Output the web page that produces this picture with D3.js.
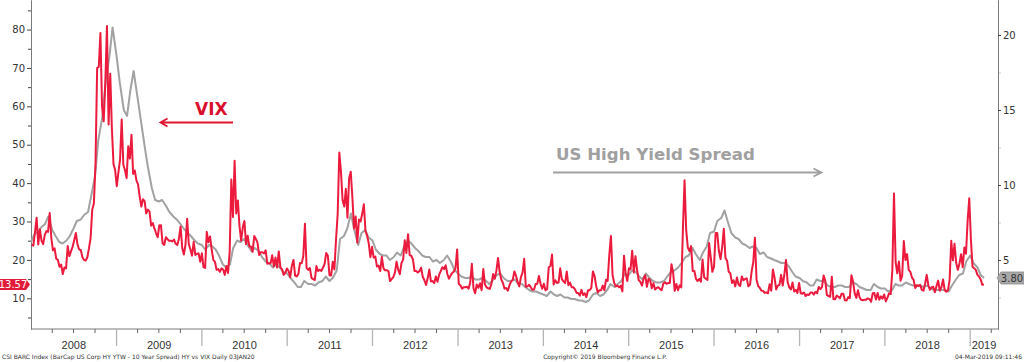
<!DOCTYPE html>
<html>
<head>
<meta charset="utf-8">
<script src="https://cdn.jsdelivr.net/npm/d3@7"></script>
<style>
  body { margin: 0; background: #fff; }
  svg { display: block; }
  text { font-family: "DejaVu Sans", Verdana, sans-serif; }
</style>
</head>
<body>
<svg id="chart" width="1024" height="362"></svg>
<script>
// VIX, weekly (Friday) values - left axis
const vix2008 = [23.9, 23.7, 27.2, 31.0, 24.0, 28.0, 25.0, 24.1, 26.5, 27.5, 27.3, 32.2, 25.7, 22.5, 23.0, 20.3, 20.0, 18.2, 18.8, 16.3, 18.0, 17.8, 23.6, 21.0, 22.2, 23.4, 25.2, 27.0, 24.0, 22.7, 22.6, 20.7, 20.0, 19.8, 20.7, 23.0, 25.7, 33.1, 34.7, 45.1, 69.95, 70.3, 79.1, 59.9, 56.1, 66.3, 80.9, 55.3, 68.5, 54.3, 44.9, 43.4];
const vix2009 = [39.2, 42.8, 46.1, 56.6, 44.8, 43.4, 41.3, 49.6, 46.4, 52.6, 42.4, 43.3, 40.7, 39.7, 36.5, 33.9, 35.8, 35.3, 32.1, 33.1, 32.6, 28.9, 29.6, 28.2, 27.0, 25.9, 29.0, 29.0, 24.3, 23.9, 25.9, 25.4, 25.0, 25.0, 24.8, 25.3, 24.2, 23.9, 25.6, 28.7, 23.1, 21.4, 24.0, 30.7, 24.2, 22.7, 21.1, 24.7, 21.3, 21.6, 21.7, 19.5];
const vix2010 = [21.7, 18.1, 17.9, 27.3, 24.6, 26.1, 22.7, 20.0, 19.5, 17.4, 17.6, 16.9, 17.8, 17.5, 16.1, 18.4, 16.6, 22.1, 40.95, 31.2, 45.8, 32.1, 35.5, 28.8, 25.0, 28.5, 30.1, 24.1, 26.3, 23.5, 23.5, 22.1, 26.2, 25.5, 24.5, 21.3, 22.0, 22.0, 21.7, 22.5, 19.0, 19.1, 19.1, 21.2, 18.3, 20.6, 18.0, 22.2, 18.0, 17.6, 16.1, 16.6, 17.75];
const vix2011 = [17.1, 15.5, 18.5, 20.0, 15.9, 15.7, 16.4, 19.2, 19.1, 21.0, 29.4, 17.9, 17.4, 17.9, 15.3, 15.0, 14.75, 18.4, 17.1, 17.4, 17.1, 17.95, 18.9, 21.8, 21.1, 16.0, 15.95, 19.5, 17.5, 25.3, 32.0, 48.0, 43.05, 35.6, 33.9, 38.5, 30.98, 41.25, 42.96, 36.2, 28.2, 31.3, 24.5, 30.5, 30.0, 32.0, 34.5, 27.5, 26.3, 24.3, 20.7, 23.4];
const vix2012 = [20.6, 20.9, 18.3, 18.5, 17.1, 20.8, 17.8, 17.3, 17.3, 17.1, 14.5, 15.0, 15.5, 16.7, 19.55, 17.4, 16.3, 19.2, 20.0, 25.1, 21.8, 26.7, 21.2, 21.1, 20.1, 17.1, 17.1, 16.7, 17.1, 18.0, 15.6, 14.7, 13.45, 15.2, 17.5, 14.4, 14.5, 13.98, 15.7, 14.3, 16.1, 17.1, 18.1, 17.6, 18.6, 16.4, 15.1, 15.9, 16.6, 17.0, 17.8, 22.7];
const vix2013 = [13.8, 13.4, 12.5, 12.9, 12.9, 13.0, 12.5, 14.1, 19.0, 12.6, 11.3, 13.6, 12.7, 13.9, 12.1, 17.6, 13.6, 12.85, 12.6, 12.45, 13.8, 16.3, 15.1, 17.15, 20.5, 16.9, 14.9, 14.0, 12.5, 12.7, 11.98, 13.4, 14.4, 14.8, 17.0, 15.85, 14.2, 13.1, 15.5, 16.7, 20.3, 13.0, 13.1, 13.5, 12.9, 12.2, 12.3, 13.7, 13.8, 15.8, 13.8, 12.5];
const vix2014 = [13.8, 12.1, 12.4, 18.1, 18.4, 21.4, 13.6, 14.7, 14.0, 14.1, 17.8, 15.0, 14.4, 13.96, 17.0, 13.4, 14.1, 12.9, 12.9, 12.4, 11.4, 11.4, 10.7, 12.2, 10.85, 11.3, 10.3, 12.1, 12.1, 12.7, 17.0, 15.8, 13.15, 11.5, 12.1, 12.1, 13.3, 12.1, 14.85, 14.55, 21.2, 26.25, 16.1, 14.0, 13.1, 13.3, 12.9, 13.3, 11.8, 21.1, 16.5, 14.5];
const vix2015 = [17.8, 17.55, 22.4, 16.7, 20.97, 17.3, 14.7, 14.3, 13.3, 15.2, 16.0, 13.0, 15.1, 14.7, 12.6, 13.9, 12.3, 12.7, 12.9, 12.4, 12.1, 13.8, 14.2, 13.8, 13.96, 14.0, 18.85, 16.8, 11.95, 13.7, 12.1, 13.4, 12.8, 28.0, 40.74, 27.8, 23.2, 22.3, 23.6, 17.1, 17.1, 15.05, 14.5, 15.1, 14.3, 20.1, 15.5, 15.1, 14.8, 24.4, 20.7, 16.9];
const vix2016 = [18.2, 27.0, 27.0, 22.3, 20.2, 23.4, 28.1, 20.5, 19.8, 16.9, 16.5, 14.0, 14.7, 13.1, 15.4, 13.6, 13.2, 15.7, 14.7, 15.04, 15.2, 13.1, 13.5, 17.0, 19.4, 25.8, 14.8, 13.2, 12.7, 12.0, 11.9, 11.4, 11.55, 11.3, 13.65, 11.98, 17.5, 15.4, 12.3, 13.3, 13.5, 16.1, 13.3, 16.2, 20.0, 14.2, 12.85, 12.3, 14.1, 11.75, 12.2, 11.4, 14.0];
const vix2017 = [11.3, 11.2, 11.5, 10.6, 11.0, 10.85, 11.5, 11.5, 10.96, 11.7, 11.3, 12.96, 12.4, 12.9, 15.96, 14.6, 10.8, 10.6, 10.4, 15.6, 9.8, 9.75, 10.7, 10.4, 10.0, 11.2, 11.2, 9.5, 9.4, 10.3, 10.0, 16.0, 14.3, 11.3, 10.1, 12.1, 10.2, 9.6, 9.5, 9.65, 9.6, 10.0, 9.8, 9.1, 11.3, 11.4, 9.7, 11.4, 9.6, 10.5, 9.9, 11.0];
const vix2018 = [9.2, 10.2, 11.3, 11.1, 17.3, 37.3, 19.5, 16.5, 19.6, 14.6, 15.8, 24.9, 19.97, 21.5, 17.4, 16.9, 15.4, 14.8, 12.65, 13.4, 13.2, 13.5, 12.2, 11.98, 13.8, 16.1, 13.4, 12.2, 12.9, 13.0, 11.6, 13.2, 14.6, 11.99, 12.9, 14.9, 12.1, 11.7, 12.1, 14.8, 24.98, 19.9, 24.2, 19.3, 17.4, 19.0, 21.5, 18.1, 23.2, 21.6, 30.1, 36.07];
const vix2019 = [25.45, 18.2, 17.8, 17.4, 16.1, 15.7, 14.9, 13.5, 13.57];

// US High Yield spread (YTW - 10y), 1st and 15th of each month - right axis
const hy2008 = [6.2, 6.7, 6.9, 7.2, 7.4, 7.9, 7.0, 6.6, 6.2, 6.1, 6.3, 6.6, 7.1, 7.6, 7.7, 8.0, 8.2, 9.3, 10.6, 13.0, 14.5, 16.8, 18.5, 20.5];
const hy2009 = [18.6, 16.8, 15.0, 14.6, 16.3, 17.6, 15.8, 14.3, 12.6, 11.2, 9.8, 9.0, 8.9, 9.0, 8.6, 8.2, 7.9, 7.7, 7.4, 7.1, 6.8, 6.6, 6.3, 6.1];
const hy2010 = [6.0, 5.7, 6.0, 5.9, 5.7, 5.3, 4.7, 4.5, 4.7, 5.8, 6.3, 6.2, 6.4, 6.0, 5.6, 5.8, 5.6, 5.2, 4.9, 4.8, 4.5, 4.7, 4.5, 4.2];
const hy2011 = [4.1, 3.8, 3.5, 3.2, 3.2, 3.6, 3.4, 3.4, 3.3, 3.5, 3.6, 3.9, 3.6, 3.8, 4.3, 6.4, 6.6, 7.1, 8.1, 7.0, 6.0, 6.8, 7.0, 6.5];
const hy2012 = [6.3, 5.7, 5.4, 5.3, 5.3, 5.0, 5.2, 5.5, 5.3, 5.9, 6.3, 6.1, 5.8, 5.6, 5.3, 5.2, 5.2, 4.9, 5.0, 4.8, 5.0, 5.3, 4.9, 4.4];
const hy2013 = [4.1, 3.9, 3.8, 3.8, 3.9, 3.7, 3.7, 3.8, 3.6, 3.4, 3.7, 4.0, 4.1, 3.8, 3.6, 3.6, 3.7, 3.4, 3.4, 3.2, 3.0, 2.9, 2.9, 2.8];
const hy2014 = [2.7, 2.6, 2.9, 2.7, 2.6, 2.7, 2.5, 2.5, 2.4, 2.4, 2.3, 2.3, 2.2, 2.3, 2.7, 2.8, 2.6, 2.7, 3.0, 3.4, 3.2, 3.4, 3.6, 4.1];
const hy2015 = [4.0, 4.3, 4.2, 3.9, 3.7, 4.1, 3.8, 3.6, 3.5, 3.5, 3.6, 3.9, 4.2, 4.3, 4.5, 4.8, 5.2, 5.3, 5.8, 5.4, 5.0, 5.5, 5.9, 6.8];
const hy2016 = [6.9, 7.6, 7.8, 8.3, 7.5, 6.8, 6.5, 6.4, 6.1, 6.0, 5.8, 5.9, 5.8, 5.4, 5.5, 5.2, 5.1, 5.0, 4.9, 4.8, 4.8, 4.6, 4.2, 3.9];
const hy2017 = [3.8, 3.6, 3.5, 3.3, 3.3, 3.7, 3.6, 3.6, 3.3, 3.2, 3.2, 3.3, 3.3, 3.2, 3.2, 3.5, 3.4, 3.2, 3.1, 3.0, 3.0, 3.4, 3.2, 3.1];
const hy2018 = [3.1, 2.9, 3.0, 3.4, 3.3, 3.3, 3.5, 3.4, 3.3, 3.3, 3.3, 3.2, 3.3, 3.1, 3.0, 3.0, 3.0, 3.0, 2.9, 3.3, 3.7, 4.0, 4.1, 4.9];
const hy2019 = [5.3, 4.8, 4.5, 4.0, 3.80];

const years = [2008, 2009, 2010, 2011, 2012, 2013, 2014, 2015, 2016, 2017, 2018, 2019];
const vixByYear = [vix2008, vix2009, vix2010, vix2011, vix2012, vix2013, vix2014, vix2015, vix2016, vix2017, vix2018, vix2019];
const hyByYear = [hy2008, hy2009, hy2010, hy2011, hy2012, hy2013, hy2014, hy2015, hy2016, hy2017, hy2018, hy2019];
const leftTicks = [10, 20, 30, 40, 50, 60, 70, 80];
const leftMinor = [5, 15, 25, 35, 45, 55, 65, 75, 85];
const rightTicks = [5, 10, 15, 20];
const rightMinor = [2.5, 7.5, 12.5, 17.5];
const lastVix = "13.57", lastHy = "3.80";

const RED = "#ec1a3d", GREY = "#a2a2a2";

// build dated series
const vixData = [];
years.forEach((y, k) => {
    const fridays = d3.timeFriday.range(new Date(y, 0, 1), new Date(y + 1, 0, 1));
    vixByYear[k].forEach((v, i) => vixData.push({ date: fridays[i], v }));
});
const hyData = [];
years.forEach((y, k) => {
    hyByYear[k].forEach((v, i) => hyData.push({ date: new Date(y, Math.floor(i / 2), i % 2 ? 15 : 1), v }));
});

const svg = d3.select("#chart");
const plotL = 31, plotR = 998, plotB = 329, plotT = 0;

const x = d3.scaleTime().domain([new Date(2008, 0, 1), new Date(2019, 3, 30)]).range([plotL, plotR]);
const yL = d3.scaleLinear().domain([2, 87.7]).range([plotB, plotT]);
const yR = d3.scaleLinear().domain([0.4, 22.33]).range([plotB, plotT]);

// ---- axes ----
const axisCol = "#7a7a7a";
const gl = svg.append("g").attr("transform", `translate(${plotL},0)`);
gl.call(d3.axisLeft(yL).tickValues(leftMinor).tickFormat("").tickSize(3).tickSizeOuter(0));
const glMaj = gl.append("g").call(d3.axisLeft(yL).tickValues(leftTicks).tickSize(4).tickSizeOuter(0).tickPadding(2));
gl.selectAll("path.domain").attr("stroke", axisCol);
gl.selectAll(".tick line").attr("stroke", "#444");
glMaj.selectAll(".tick text").attr("fill", "#333").style("font-size", "10px");

const gr = svg.append("g").attr("transform", `translate(${plotR},0)`);
gr.call(d3.axisRight(yR).tickValues(rightMinor).tickFormat("").tickSize(3).tickSizeOuter(0));
gr.selectAll(".tick line").attr("stroke", "#ccc");
const grMaj = gr.append("g").call(d3.axisRight(yR).tickValues(rightTicks).tickSize(3).tickSizeOuter(0).tickPadding(2));
grMaj.selectAll(".tick line").attr("stroke", "#444");
grMaj.selectAll(".tick text").attr("fill", "#333").style("font-size", "10px");
gr.selectAll("path.domain").attr("stroke", axisCol);

// bottom axis: line, quarterly ticks, year separators, centred year labels
svg.append("line").attr("x1", plotL).attr("x2", plotR).attr("y1", plotB).attr("y2", plotB).attr("stroke", axisCol);
const quarters = d3.timeMonth.every(3).range(x.domain()[0], x.domain()[1]).filter(d => d.getMonth() !== 0);
svg.append("g").selectAll("line").data(quarters).join("line")
    .attr("x1", d => x(d)).attr("x2", d => x(d)).attr("y1", plotB).attr("y2", plotB + 4)
    .attr("stroke", "#666");
const yearStarts = d3.timeYear.range(new Date(2009, 0, 1), x.domain()[1]);
svg.append("g").selectAll("line").data(yearStarts).join("line")
    .attr("x1", d => x(d)).attr("x2", d => x(d)).attr("y1", plotB).attr("y2", plotB + 17)
    .attr("stroke", "#b5b5b5").attr("stroke-width", 1.3);
svg.append("g").selectAll("text").data(years).join("text")
    .attr("x", function (y) {
        const a = Math.max(plotL, x(new Date(y, 0, 1)));
        const b = Math.min(plotR, x(new Date(y + 1, 0, 1)));
        return (a + b) / 2;
    })
    .attr("y", 349).attr("text-anchor", "middle")
    .attr("fill", "#333").style("font-size", "11px").style("font-family", "'Liberation Sans', Arial, sans-serif")
    .text(d => d);

// ---- series ----
svg.append("path").datum(hyData)
    .attr("fill", "none").attr("stroke", GREY).attr("stroke-width", 2).attr("stroke-linejoin", "round")
    .attr("d", d3.line().x(d => x(d.date)).y(d => yR(d.v)));
svg.append("path").datum(vixData)
    .attr("fill", "none").attr("stroke", RED).attr("stroke-width", 2).attr("stroke-linejoin", "round")
    .attr("d", d3.line().x(d => x(d.date)).y(d => yL(d.v)));

// ---- last-value tags ----
const yv = yL(+lastVix);
svg.append("path").attr("d", `M0,${yv - 5.5}H26L30,${yv}L26,${yv + 5.5}H0Z`).attr("fill", "#e31b3a");
svg.append("text").attr("x", 13).attr("y", yv + 3.6).attr("text-anchor", "middle")
    .attr("fill", "#fff").style("font-size", "10px").text(lastVix);
const yh = yR(+lastHy);
svg.append("path").attr("d", `M1024,${yh - 6}H1001L997,${yh}L1001,${yh + 6}H1024Z`)
    .attr("fill", "#a9a9a9").attr("stroke", "#8a8a8a").attr("stroke-width", 0.8);
svg.append("text").attr("x", 1012).attr("y", yh + 3.6).attr("text-anchor", "middle")
    .attr("fill", "#333").style("font-size", "10px").text(lastHy);

// ---- annotations ----
svg.append("text").attr("x", 195).attr("y", 115).attr("fill", "#d9112e")
    .style("font-size", "17px").style("font-weight", "bold").text("VIX");
svg.append("path").attr("d", "M233,122.5H160.5M167.5,118.5L160.5,122.5L167.5,126.5")
    .attr("fill", "none").attr("stroke", "#e0142f").attr("stroke-width", 1.8);
svg.append("text").attr("x", 556).attr("y", 160).attr("fill", "#a0a0a0")
    .style("font-size", "16.6px").style("font-weight", "bold").text("US High Yield Spread");
svg.append("path").attr("d", "M553,172.5H821.5M813.5,168.5L821.5,172.5L813.5,176.5")
    .attr("fill", "none").attr("stroke", "#a0a0a0").attr("stroke-width", 1.8);

// ---- footer ----
const foot = svg.append("g").attr("fill", "#333").style("font-size", "6px");
foot.append("text").attr("x", 2).attr("y", 359)
    .text("CSI BARC Index (BarCap US Corp HY YTW - 10 Year Spread) HY vs VIX  Daily 03JAN20");
foot.append("text").attr("x", 605).attr("y", 359).attr("text-anchor", "middle")
    .text("Copyright\u00A9 2019 Bloomberg Finance L.P.");
foot.append("text").attr("x", 1022).attr("y", 359).attr("text-anchor", "end")
    .text("04-Mar-2019 09:11:46");
</script>
</body>
</html>
